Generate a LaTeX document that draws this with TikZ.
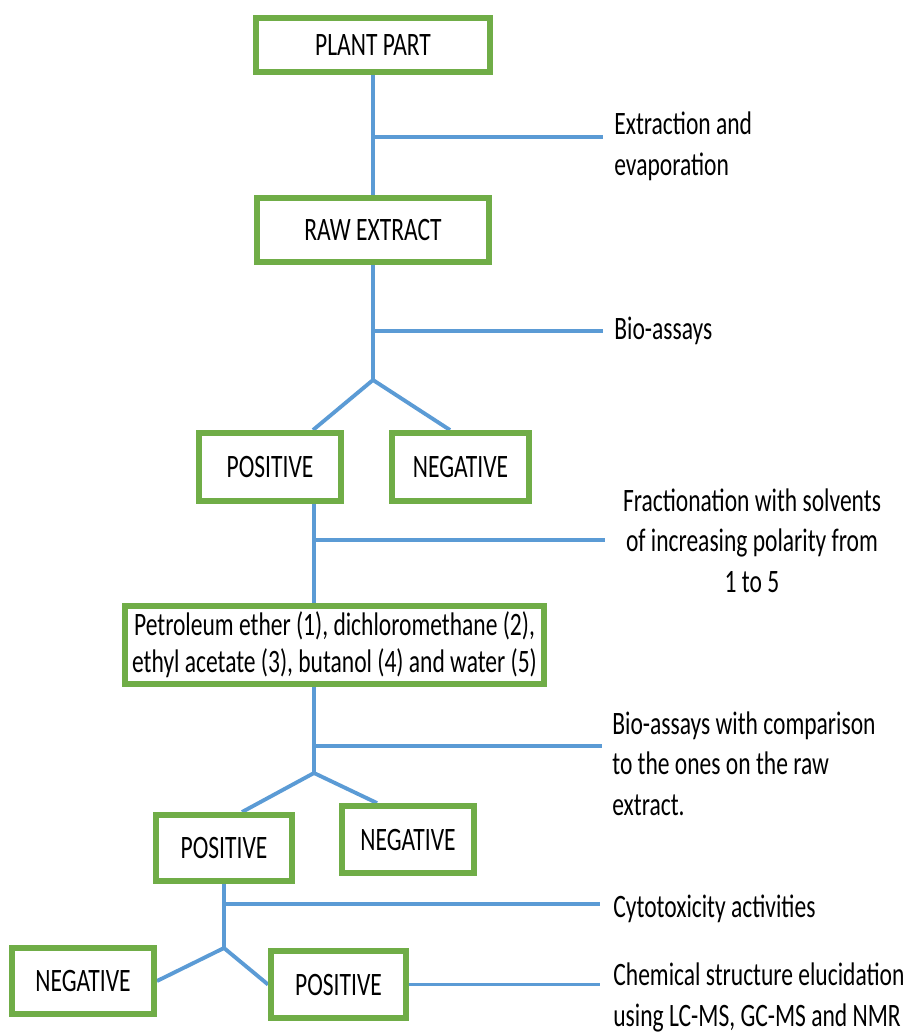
\documentclass[tikz,border=0pt]{standalone}
\usepackage{fontspec}
\setmainfont{Carlito}[FakeStretch=0.72]
\usetikzlibrary{backgrounds}

\definecolor{boxGreen}{HTML}{70AD47}
\definecolor{linkBlue}{HTML}{5B9BD5}

\begin{document}
\begin{tikzpicture}[x=0.02cm, y=-0.02cm,
    font=\fontsize{18.6pt}{22.8pt}\selectfont,
    stage/.style={draw=boxGreen, line width=3.4pt, fill=white, inner sep=0pt, align=center},
    note/.style={inner sep=0pt, align=left},
    link/.style={draw=linkBlue, line width=2.2pt}]
    \useasboundingbox (0,0) rectangle (913,1034);

    \node[stage, minimum width=4.68cm, minimum height=1.08cm] (plantPart) at (373,45) {PLANT PART};
    \node[stage, minimum width=4.66cm, minimum height=1.28cm] (rawExtract) at (373,230) {RAW EXTRACT};
    \node[stage, minimum width=2.84cm, minimum height=1.36cm] (posOne) at (270,467) {POSITIVE};
    \node[stage, minimum width=2.74cm, minimum height=1.36cm] (negOne) at (460.5,467) {NEGATIVE};
    \node[stage, minimum width=8.38cm, minimum height=1.56cm,
          font=\fontsize{18.6pt}{21pt}\selectfont] (fractions) at (334.5,645)
          {Petroleum ether (1), dichloromethane (2),\\ethyl acetate (3), butanol (4) and water (5)};
    \node[stage, minimum width=2.72cm, minimum height=1.32cm] (posTwo) at (224,848) {POSITIVE};
    \node[stage, minimum width=2.64cm, minimum height=1.34cm] (negTwo) at (408,839.5) {NEGATIVE};
    \node[stage, minimum width=2.84cm, minimum height=1.32cm] (negThree) at (83,981) {NEGATIVE};
    \node[stage, minimum width=2.70cm, minimum height=1.34cm] (posThree) at (338.5,984.5) {POSITIVE};

    % base of a multi-line note = baseline of its last line
    \node[note, anchor=base west] (extraction) at (614,175) {Extraction and\\evaporation};
    \node[note, anchor=base west] (bioAssays) at (614,339) {Bio-assays};
    \node[note, anchor=base, align=center] (fractionation) at (752,592)
        {Fractionation with solvents\\of increasing polarity from\\1 to 5};
    \node[note, anchor=base west] (bioCompare) at (612,815)
        {Bio-assays with comparison\\to the ones on the raw\\extract.};
    \node[note, anchor=base west] (cytotox) at (613,917) {Cytotoxicity activities};
    \node[note, anchor=base west] (elucidation) at (613,1026)
        {Chemical structure elucidation\\using LC-MS, GC-MS and NMR};

    \coordinate (splitOne) at (373,380);
    \coordinate (splitTwo) at (314,773);
    \coordinate (splitThree) at (224,948);
    \coordinate (extractionEnd) at (603,137);
    \coordinate (bioAssaysEnd) at (603,331);
    \coordinate (fractionationEnd) at (605,540);
    \coordinate (bioCompareEnd) at (602,746);
    \coordinate (cytotoxEnd) at (600,904);
    \coordinate (elucidationEnd) at (600,984.5);

    \begin{scope}[on background layer]
        \draw[link] (plantPart) -- (rawExtract);
        \draw[link] (extractionEnd -| plantPart) -- (extractionEnd);
        \draw[link] (rawExtract) -- (splitOne);
        \draw[link] (bioAssaysEnd -| rawExtract) -- (bioAssaysEnd);
        \draw[link] (splitOne) -- ([xshift=0.86cm]posOne.north);
        \draw[link] (splitOne) -- ([xshift=-0.21cm]negOne.north);
        \draw[link] ([xshift=0.88cm]posOne.south) -- ([xshift=-0.41cm]fractions.north);
        \draw[link] (fractionationEnd -| splitTwo) -- (fractionationEnd);
        \draw[link] ([xshift=-0.41cm]fractions.south) -- (splitTwo);
        \draw[link] (bioCompareEnd -| splitTwo) -- (bioCompareEnd);
        \draw[link] (splitTwo) -- ([xshift=0.36cm]posTwo.north);
        \draw[link] (splitTwo) -- ([xshift=-0.62cm]negTwo.north);
        \draw[link] (posTwo) -- (splitThree);
        \draw[link] (cytotoxEnd -| splitThree) -- (cytotoxEnd);
        \draw[link] (splitThree) -- (negThree.east);
        \draw[link] (splitThree) -- (posThree.west);
        \draw[link] (posThree) -- (elucidationEnd);
    \end{scope}
\end{tikzpicture}
\end{document}
